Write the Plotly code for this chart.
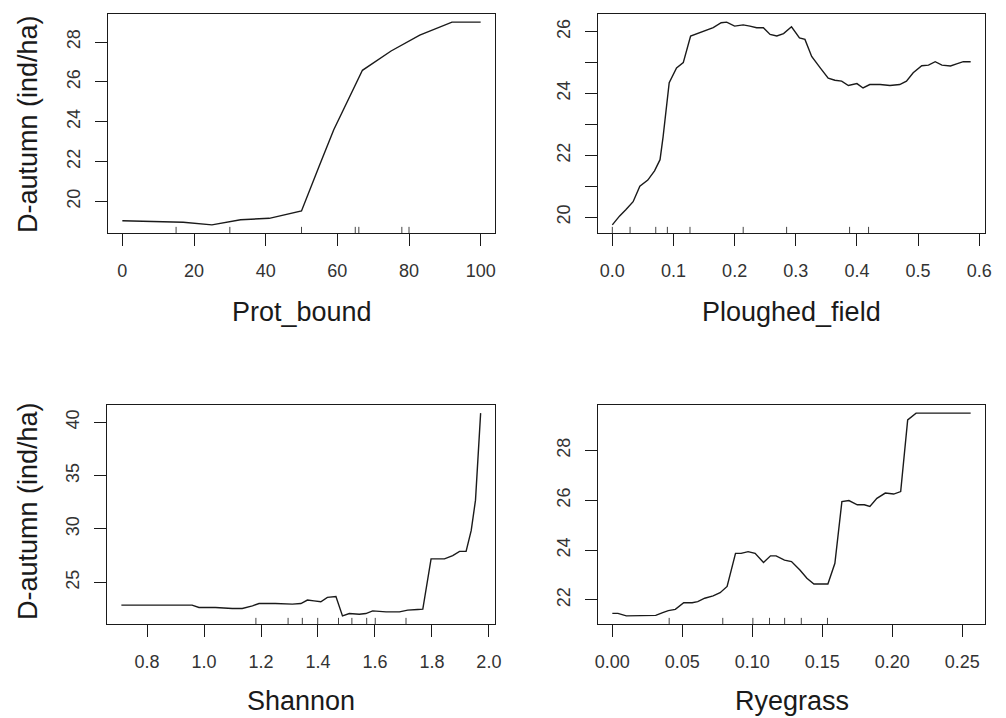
import plotly.graph_objects as go

# ---------------- data ----------------
prot_x = [0, 13.3, 17, 25, 33, 41, 50, 55, 59, 67, 75, 83, 92, 100]
prot_y = [19.03, 18.96, 18.95, 18.82, 19.08, 19.15, 19.52, 21.8, 23.6, 26.58, 27.55, 28.35, 29.0, 29.0]
prot_rug = [15, 30, 50, 65, 66, 78, 80]

plough_x = [0.0, 0.012, 0.022, 0.034, 0.045, 0.058, 0.069, 0.078, 0.083, 0.088, 0.093, 0.105,
            0.116, 0.128, 0.143, 0.165, 0.178, 0.187, 0.2, 0.214, 0.225, 0.236, 0.247, 0.258,
            0.269, 0.28, 0.293, 0.306, 0.315, 0.326, 0.34, 0.353, 0.364, 0.375, 0.386, 0.4,
            0.41, 0.421, 0.438, 0.454, 0.47, 0.481, 0.492, 0.506, 0.517, 0.528, 0.539, 0.553,
            0.563, 0.574, 0.586]
plough_y = [19.75, 20.04, 20.24, 20.5, 21.0, 21.2, 21.5, 21.86, 22.6, 23.4, 24.35, 24.83,
            25.0, 25.86, 25.97, 26.13, 26.29, 26.31, 26.18, 26.22, 26.18, 26.13, 26.13, 25.91,
            25.86, 25.94, 26.16, 25.8, 25.75, 25.2, 24.83, 24.5, 24.43, 24.4, 24.26, 24.32,
            24.18, 24.29, 24.29, 24.26, 24.29, 24.4, 24.67, 24.9, 24.92, 25.03, 24.92, 24.89,
            24.96, 25.03, 25.03]
plough_rug = [0.0, 0.029, 0.071, 0.09, 0.127, 0.214, 0.285, 0.388, 0.419]

shannon_x = [0.7097, 0.958, 0.982, 1.04, 1.099, 1.134, 1.17, 1.193, 1.25, 1.31, 1.34, 1.363,
             1.386, 1.41, 1.433, 1.463, 1.486, 1.51, 1.545, 1.568, 1.592, 1.639, 1.686, 1.715,
             1.75, 1.768, 1.797, 1.844, 1.873, 1.897, 1.92, 1.938, 1.953, 1.967, 1.971]
shannon_y = [22.87, 22.87, 22.65, 22.65, 22.55, 22.55, 22.8, 23.02, 23.02, 22.96, 23.02, 23.34,
             23.27, 23.18, 23.59, 23.68, 21.86, 22.08, 22.02, 22.08, 22.33, 22.24, 22.24, 22.4,
             22.46, 22.49, 27.2, 27.2, 27.5, 27.9, 27.9, 29.86, 32.7, 39.9, 40.85]
shannon_rug = [1.182, 1.295, 1.345, 1.399, 1.472, 1.519, 1.571, 1.601, 1.709]

rye_x = [0.0, 0.004, 0.01, 0.017, 0.024, 0.031, 0.036, 0.04, 0.045, 0.051, 0.057, 0.061, 0.066,
         0.072, 0.077, 0.082, 0.088, 0.092, 0.097, 0.102, 0.108, 0.113, 0.117, 0.123, 0.128,
         0.134, 0.139, 0.144, 0.149, 0.154, 0.159, 0.164, 0.169, 0.175, 0.18, 0.184, 0.189,
         0.195, 0.201, 0.206, 0.211, 0.217, 0.23, 0.256]
rye_y = [21.46, 21.46, 21.36, 21.36, 21.36, 21.38, 21.49, 21.57, 21.62, 21.89, 21.89, 21.93, 22.07,
         22.16, 22.29, 22.54, 23.87, 23.87, 23.94, 23.87, 23.5, 23.77, 23.77, 23.6, 23.54,
         23.2, 22.87, 22.64, 22.64, 22.64, 23.47, 25.95, 25.99, 25.82, 25.82, 25.75, 26.08,
         26.29, 26.25, 26.35, 29.23, 29.5, 29.5, 29.5]
rye_rug = [0.0406, 0.0789, 0.1004, 0.1123, 0.1231, 0.135, 0.1537]

x_titles = ["Prot_bound", "Ploughed_field", "Shannon", "Ryegrass"]
y_title = "D-autumn (ind/ha)"

x_ticks = [[0, 20, 40, 60, 80, 100],
           [0, 0.1, 0.2, 0.3, 0.4, 0.5, 0.6],
           [0.8, 1.0, 1.2, 1.4, 1.6, 1.8, 2.0],
           [0, 0.05, 0.10, 0.15, 0.20, 0.25]]
x_ticktext = [["0", "20", "40", "60", "80", "100"],
              ["0.0", "0.1", "0.2", "0.3", "0.4", "0.5", "0.6"],
              ["0.8", "1.0", "1.2", "1.4", "1.6", "1.8", "2.0"],
              ["0.00", "0.05", "0.10", "0.15", "0.20", "0.25"]]
y_ticks = [[20, 22, 24, 26, 28],
           [20, 21, 22, 23, 24, 25, 26],
           [25, 30, 35, 40],
           [22, 24, 26, 28]]
y_ticktext = [["20", "22", "24", "26", "28"],
              ["20", "", "22", "", "24", "", "26"],
              ["25", "30", "35", "40"],
              ["22", "24", "26", "28"]]

panels = [(prot_x, prot_y, prot_rug), (plough_x, plough_y, plough_rug),
          (shannon_x, shannon_y, shannon_rug), (rye_x, rye_y, rye_rug)]

# ---------------- layout geometry ----------------
# the page body adds an 8px offset, so the figure is drawn 8px smaller
OFF = 8
W, H = 1006 - OFF, 718 - OFF
FONT = "Liberation Sans, Arial, Helvetica, sans-serif"
INK = "#1a1a1a"
boxes = [(108, 495, 14, 233), (598, 985, 14, 233), (107, 495, 405, 624), (598, 985, 405, 624)]


def px(v):
    return (v - OFF) / W


def py(v):
    return 1 - (v - OFF) / H


def ext(v):
    lo, hi = min(v), max(v)
    d = (hi - lo) * 0.04
    return [lo - d, hi + d]


fig = go.Figure()
shapes = []
annotations = []
layout = {}
for i, ((xs, ys, rug), (l, r, t, b)) in enumerate(zip(panels, boxes)):
    k = "" if i == 0 else str(i + 1)
    fig.add_trace(go.Scatter(x=xs, y=ys, mode="lines", xaxis="x" + k, yaxis="y" + k,
                             line=dict(color=INK, width=1.4), showlegend=False,
                             hoverinfo="x+y"))
    common = dict(showline=True, mirror=True, linecolor=INK, linewidth=1.3,
                  ticks="outside", ticklen=12, tickwidth=1.3, tickcolor=INK,
                  showgrid=False, zeroline=False, automargin=False,
                  tickfont=dict(family=FONT, size=18, color="#333333"))
    layout["xaxis" + k] = dict(common, domain=[px(l), px(r)], anchor="y" + k,
                               range=ext(xs), tickmode="array", tickvals=x_ticks[i],
                               ticktext=x_ticktext[i], ticklabelstandoff=9)
    layout["yaxis" + k] = dict(common, domain=[py(b), py(t)], anchor="x" + k,
                               range=ext(ys), tickmode="array", tickvals=y_ticks[i],
                               ticktext=y_ticktext[i], tickangle=-90, ticklabelstandoff=8)
    for v in rug:
        shapes.append(dict(type="line", xref="x" + k, yref="y" + k + " domain",
                           x0=v, x1=v, y0=0, y1=0.028,
                           line=dict(color="#444444", width=1)))
    ty = 312 if i < 2 else 701
    annotations.append(dict(text=x_titles[i], xref="paper", yref="paper",
                            x=px((l + r) / 2), y=py(ty), showarrow=False,
                            xanchor="center", yanchor="middle",
                            font=dict(family=FONT, size=27, color=INK)))
    if i % 2 == 0:
        cy = 124 if i == 0 else 511
        annotations.append(dict(text=y_title, xref="paper", yref="paper",
                                x=px(28), y=py(cy), showarrow=False, textangle=-90,
                                xanchor="center", yanchor="middle",
                                font=dict(family=FONT, size=27, color=INK)))

fig.update_layout(width=W, height=H, margin=dict(l=0, r=0, t=0, b=0),
                  paper_bgcolor="white", plot_bgcolor="white",
                  shapes=shapes, annotations=annotations, showlegend=False, **layout)
fig.write_html("out.html")
